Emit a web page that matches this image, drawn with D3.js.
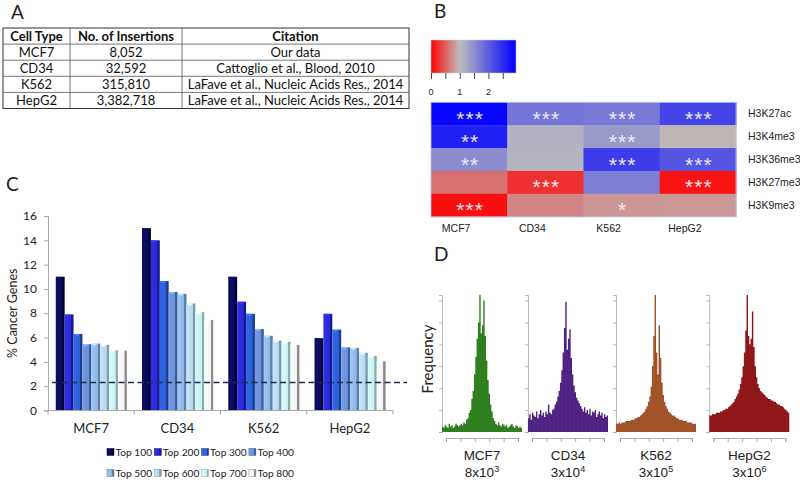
<!DOCTYPE html>
<html>
<head>
<meta charset="utf-8">
<script src="https://cdn.jsdelivr.net/npm/d3@7"></script>
<style>
  body { margin: 0; background: #fff; }
  svg { display: block; }
</style>
</head>
<body>
<div id="chart"></div>
<script>
// ---- panel A: table
var tableHeader = ["Cell Type", "No. of Insertions", "Citation"];
var cellTypes = ["MCF7", "CD34", "K562", "HepG2"];
var insertions = ["8,052", "32,592", "315,810", "3,382,718"];
var citations = ["Our data", "Cattoglio et al., Blood, 2010",
    "LaFave et al., Nucleic Acids Res., 2014", "LaFave et al., Nucleic Acids Res., 2014"];

// ---- panel B: heatmap (fold enrichment)
var marks = ["H3K27ac", "H3K4me3", "H3K36me3", "H3K27me3", "H3K9me3"];
var cellLines = ["MCF7", "CD34", "K562", "HepG2"];
var enrichment = [
    [2.9, 1.75, 1.72, 2.25],
    [2.63, 1.12, 1.37, 0.96],
    [1.52, 1.1, 2.34, 2.08],
    [0.59, 0.25, 1.66, 0.1],
    [0.08, 0.7, 0.79, 0.8]
];
var stars = [
    ["***", "***", "***", "***"],
    ["**", "", "***", ""],
    ["**", "", "***", "***"],
    ["", "***", "", "***"],
    ["***", "", "*", ""]
];
var colorTicks = [0, 1, 2];

// ---- panel C: % cancer genes
var categories = ["MCF7", "CD34", "K562", "HepG2"];
var series = ["Top 100", "Top 200", "Top 300", "Top 400", "Top 500", "Top 600", "Top 700", "Top 800"];
var cancerPct = [
    [11.0, 7.9, 6.3, 5.45, 5.5, 5.4, 4.95, 4.92],
    [15.0, 14.0, 10.65, 9.75, 9.6, 8.8, 8.1, 7.45],
    [11.0, 8.95, 7.95, 6.7, 6.15, 5.75, 5.65, 5.4],
    [5.95, 7.95, 6.65, 5.2, 5.15, 4.75, 4.5, 4.05]
];
var baselinePct = 2.3;
var yTicks = [0, 2, 4, 6, 8, 10, 12, 14, 16];

// ---- panel D: histograms (relative frequency)
var histNames = ["MCF7", "CD34", "K562", "HepG2"];
var histMant = ["8x10", "3x10", "3x10", "3x10"];
var histExp = ["3", "4", "5", "6"];
var histMCF7 = [4,3,5,4,3,6,4,5,3,4,6,5,4,5,6,5,
    7,6,9,10,14,16,24,30,42,55,68,80,
    100,72,78,96,70,52,38,28,20,15,10,8,
    6,5,7,5,4,6,5,4,5,3,4,5,6,4,3,5,4,3,4,3];
var histCD34 = [10,13,9,14,12,11,15,10,13,16,12,14,11,15,13,20,14,13,16,17,
    20,22,26,30,36,45,58,76,
    95,60,68,75,54,42,34,29,25,23,21,19,
    17,15,18,14,16,13,17,12,15,14,16,11,13,15,12,14,10,13,11,12];
var histK562 = [6,6,7,6,7,7,7,8,8,8,8,9,9,9,10,10,11,11,12,13,
    14,15,17,19,22,26,33,48,
    70,100,58,42,78,54,36,27,22,19,17,15,
    14,13,12,12,11,10,10,9,9,9,8,8,8,7,7,7,7,6,6,6];
var histHepG2 = [12,12,13,13,13,14,14,14,15,15,16,16,17,17,18,19,20,21,22,24,
    26,28,31,35,40,48,58,74,
    100,70,64,68,88,62,48,40,35,32,30,29,
    28,27,26,25,24,24,23,23,22,22,21,20,20,19,19,18,17,16,15,14];
var histData = [histMCF7, histCD34, histK562, histHepG2];

var FONT = "Lato, 'Open Sans', sans-serif";
var ARIAL = "'Liberation Sans', Arial, sans-serif";

var svg = d3.select("#chart").append("svg")
    .attr("width", 800).attr("height", 480)
    .style("background", "#fff");
var defs = svg.append("defs");

// panel letters
svg.selectAll("text.panel")
    .data([["A", 11, 19], ["B", 434, 18], ["C", 6, 191], ["D", 434, 261]])
    .enter().append("text")
    .attr("class", "panel")
    .attr("x", d => d[1]).attr("y", d => d[2])
    .style("font-family", FONT).style("font-size", "19px").style("fill", "#222")
    .text(d => d[0]);

// ================= A =================
var colEdges = [3, 70, 182, 409];
var rows = [tableHeader].concat(cellTypes.map((c, i) => [c, insertions[i], citations[i]]));
var rowY = d3.scaleBand().domain(d3.range(rows.length)).range([28, 108.5]);
var tbl = svg.append("g");
tbl.append("rect")
    .attr("x", colEdges[0]).attr("y", rowY(0))
    .attr("width", colEdges[3] - colEdges[0]).attr("height", rowY.bandwidth() * rows.length)
    .attr("fill", "none").attr("stroke", "#333").attr("stroke-width", 1);
tbl.selectAll("line.h").data(d3.range(1, rows.length)).enter().append("line")
    .attr("x1", colEdges[0]).attr("x2", colEdges[3])
    .attr("y1", d => rowY(d)).attr("y2", d => rowY(d))
    .attr("stroke", "#555").attr("stroke-width", 0.8);
tbl.selectAll("line.v").data([1, 2]).enter().append("line")
    .attr("x1", d => colEdges[d]).attr("x2", d => colEdges[d])
    .attr("y1", rowY(0)).attr("y2", rowY(rows.length - 1) + rowY.bandwidth())
    .attr("stroke", "#555").attr("stroke-width", 0.8);
rows.forEach((r, i) => {
    tbl.selectAll(null).data(r).enter().append("text")
        .attr("x", (d, j) => (colEdges[j] + colEdges[j + 1]) / 2)
        .attr("y", rowY(i) + rowY.bandwidth() / 2)
        .attr("dy", "0.36em")
        .attr("text-anchor", "middle")
        .style("font-family", FONT).style("font-size", "13px")
        .style("font-weight", i === 0 ? "bold" : "normal")
        .style("fill", "#111")
        .text(d => d);
});

// ================= B =================
var heatColor = d3.scaleLinear().domain([0, 1, 2.96]).range(["#ff0000", "#bebebe", "#0000ff"]);
var cbX = d3.scaleLinear().domain([0, 2.96]).range([431, 516]);
var grad = defs.append("linearGradient").attr("id", "cbar");
grad.selectAll("stop").data(d3.range(0, 2.97, 0.08)).enter().append("stop")
    .attr("offset", d => d / 2.96)
    .attr("stop-color", d => heatColor(d));
svg.append("rect").attr("x", cbX(0)).attr("y", 40)
    .attr("width", cbX(2.96) - cbX(0)).attr("height", 33)
    .attr("fill", "url(#cbar)").attr("stroke", "#ccc").attr("stroke-width", 0.5);
svg.append("g").attr("transform", "translate(0,73)")
    .call(d3.axisBottom(cbX).tickValues(d3.range(0, 2.6, 0.5)).tickSize(6).tickFormat(""))
    .call(g => g.select(".domain").remove())
    .call(g => g.selectAll("line").attr("stroke", "#444"));
svg.selectAll("text.cbl").data(colorTicks).enter().append("text")
    .attr("x", d => cbX(d)).attr("y", 95)
    .attr("text-anchor", "middle")
    .style("font-family", ARIAL).style("font-size", "9px").style("fill", "#222")
    .text(d => d);

var hx = d3.scaleBand().domain(cellLines).range([431, 736]);
var hy = d3.scaleBand().domain(marks).range([102.3, 216.7]);
var cells = [];
marks.forEach((m, i) => cellLines.forEach((c, j) => cells.push({ m: m, c: c, v: enrichment[i][j], s: stars[i][j] })));
var hm = svg.append("g");
hm.selectAll("rect").data(cells).enter().append("rect")
    .attr("x", d => hx(d.c)).attr("y", d => hy(d.m))
    .attr("width", hx.bandwidth() + 0.5).attr("height", hy.bandwidth() + 0.5)
    .attr("fill", d => heatColor(d.v));
hm.append("rect").attr("x", 431).attr("y", 102.3).attr("width", 305).attr("height", 114.4)
    .attr("fill", "none").attr("stroke", "#b8bff0").attr("stroke-width", 0.8);
hm.selectAll("text.star").data(cells.filter(d => d.s)).enter().append("text")
    .attr("x", d => hx(d.c) + hx.bandwidth() / 2 + 1)
    .attr("y", d => hy(d.m) + hy.bandwidth() / 2 + 12)
    .attr("text-anchor", "middle")
    .style("font-family", ARIAL).style("font-size", "21px")
    .style("letter-spacing", "1px")
    .style("fill", "#f4f4ff").style("opacity", 0.92)
    .text(d => d.s);
svg.selectAll("text.rowl").data(marks).enter().append("text")
    .attr("x", 748).attr("y", d => hy(d) + hy.bandwidth() / 2)
    .attr("dy", "0.35em")
    .style("font-family", ARIAL).style("font-size", "10.5px").style("fill", "#222")
    .text(d => d);
svg.selectAll("text.coll").data(cellLines).enter().append("text")
    .attr("x", d => hx(d) + hx.bandwidth() / 2 - 13).attr("y", 232)
    .attr("text-anchor", "middle")
    .style("font-family", ARIAL).style("font-size", "10.5px").style("fill", "#222")
    .text(d => d);

// ================= C =================
var barBase = ["#0b0b5c", "#2a2ad6", "#2d5fd4", "#6a8fd6", "#8fb6e4", "#b6d4ea", "#c8eff1", "#f2f2f2"];
var barDark = ["#000030", "#181890", "#1c3c8e", "#3f5e98", "#5c80a8", "#7b9bb0", "#88adb0", "#8c8c8c"];
series.forEach((s, i) => {
    var g = defs.append("linearGradient").attr("id", "bar" + i);
    g.append("stop").attr("offset", 0).attr("stop-color", d3.color(barBase[i]).brighter(0.25));
    g.append("stop").attr("offset", 0.7).attr("stop-color", barBase[i]);
    g.append("stop").attr("offset", 0.76).attr("stop-color", barDark[i]);
    g.append("stop").attr("offset", 1).attr("stop-color", barDark[i]);
});

var x0 = d3.scaleBand().domain(categories).range([48, 393]);
var x1 = d3.scaleBand().domain(series).range([x0.bandwidth() * 0.09, x0.bandwidth() * 0.915]);
var y = d3.scaleLinear().domain([0, 16]).range([410.5, 216]);

var pc = svg.append("g");
// y axis
pc.append("g").attr("transform", "translate(48,0)")
    .call(d3.axisLeft(y).tickValues(yTicks).tickSize(4).tickFormat(""))
    .call(g => g.selectAll("path,line").attr("stroke", "#a8a8a8"));
pc.selectAll("text.yt").data(yTicks).enter().append("text")
    .attr("x", 37).attr("y", d => y(d)).attr("dy", "0.35em")
    .attr("text-anchor", "end")
    .style("font-family", FONT).style("font-size", "12px").style("fill", "#222")
    .text(d => d);
pc.append("text")
    .attr("transform", "translate(17," + y(8) + ") rotate(-90)")
    .attr("text-anchor", "middle")
    .style("font-family", FONT).style("font-size", "12.5px").style("fill", "#222")
    .text("% Cancer Genes");

// bars
categories.forEach((c, ci) => {
    var g = pc.append("g").attr("transform", "translate(" + x0(c) + ",0)");
    g.selectAll("rect").data(cancerPct[ci]).enter().append("rect")
        .attr("x", (d, i) => x1(series[i]))
        .attr("y", d => y(d))
        .attr("width", x1.bandwidth())
        .attr("height", d => y(0) - y(d))
        .attr("fill", (d, i) => "url(#bar" + i + ")");
    // bevel at top of each bar
    g.selectAll("path").data(cancerPct[ci]).enter().append("path")
        .attr("d", (d, i) => {
            var xl = x1(series[i]), w = x1.bandwidth() * 0.74;
            return "M" + xl + "," + y(d) + "L" + (xl + w) + "," + y(d) + "L" + (xl + w / 2) + "," + (y(d) + 2.5) + "Z";
        })
        .attr("fill", (d, i) => d3.color(barBase[i]).brighter(0.7));
});

// x axis
pc.append("line").attr("x1", 48).attr("x2", 393).attr("y1", y(0)).attr("y2", y(0))
    .attr("stroke", "#a8a8a8");
pc.selectAll("line.xt").data(categories.concat([null])).enter().append("line")
    .attr("x1", d => d ? x0(d) : x0.range()[1]).attr("x2", d => d ? x0(d) : x0.range()[1])
    .attr("y1", y(0)).attr("y2", y(0) + 4)
    .attr("stroke", "#a8a8a8");
pc.selectAll("text.xl").data(categories).enter().append("text")
    .attr("x", d => x0(d) + x0.bandwidth() / 2).attr("y", 433)
    .attr("text-anchor", "middle")
    .style("font-family", FONT).style("font-size", "13px").style("fill", "#222")
    .text(d => d);

// baseline dashed
pc.append("line").attr("x1", 52).attr("x2", 407)
    .attr("y1", y(baselinePct)).attr("y2", y(baselinePct))
    .attr("stroke", "#1d2d4d").attr("stroke-width", 1.4).attr("stroke-dasharray", "6,3.5");

// legend
var leg = pc.selectAll("g.leg").data(series).enter().append("g")
    .attr("transform", (d, i) => "translate(" + (107 + (i % 4) * 47.3) + "," + (i < 4 ? 452 : 473) + ")");
leg.append("rect").attr("x", 0).attr("y", -3.5).attr("width", 7).attr("height", 7)
    .attr("fill", (d, i) => "url(#bar" + i + ")")
    .attr("stroke", (d, i) => barDark[i]).attr("stroke-width", 0.5);
leg.append("text").attr("x", 8.5).attr("dy", "0.35em")
    .style("font-family", FONT).style("font-size", "10.2px").style("fill", "#222")
    .text(d => d);

// ================= D =================
var histLeft = [442, 528, 616, 709.3];
var histColor = ["#2b7a1c", "#4a1c7e", "#9d4f25", "#8c1212"];
var histLine = ["#55993f", "#7350a6", "#bb7249", "#ab4040"];
var hyS = d3.scaleLinear().domain([0, 100]).range([432, 295]);

svg.append("text")
    .attr("transform", "translate(433,359) rotate(-90)")
    .attr("text-anchor", "middle")
    .style("font-family", FONT).style("font-size", "15px").style("fill", "#222")
    .text("Frequency");

histData.forEach((hd, k) => {
    var g = svg.append("g");
    var bx = d3.scaleBand().domain(d3.range(hd.length)).range([histLeft[k], histLeft[k] + 80]);
    var ax = d3.scaleLinear().domain([0, 5]).range([histLeft[k] + 4, histLeft[k] + 76]);
    g.append("g").attr("transform", "translate(" + histLeft[k] + ",0)")
        .call(d3.axisLeft(hyS).tickValues([0, 16, 32, 48, 64, 80, 96]).tickSize(3).tickFormat(""))
        .call(g2 => g2.selectAll("path,line").attr("stroke", "#aaa").attr("stroke-width", 0.8));
    // solid step outline of the bins
    var pts = [];
    hd.forEach((d, i) => { pts.push([bx(i), d]); pts.push([bx(i) + bx.bandwidth(), d]); });
    g.append("path").datum(pts)
        .attr("d", d3.area().x(p => p[0]).y0(hyS(0)).y1(p => hyS(p[1])))
        .attr("fill", histColor[k]);
    // faint bin separators
    g.selectAll("line.bin").data(hd).enter().append("line")
        .attr("x1", (d, i) => bx(i)).attr("x2", (d, i) => bx(i))
        .attr("y1", hyS(0)).attr("y2", d => hyS(d) + 1)
        .attr("stroke", histLine[k]).attr("stroke-width", 0.3).attr("stroke-opacity", 0.7);
    g.append("g").attr("transform", "translate(0,438)")
        .call(d3.axisBottom(ax).ticks(5).tickSize(4).tickFormat(""))
        .call(g2 => g2.selectAll("path,line").attr("stroke", "#999").attr("stroke-width", 0.8));
    var cx = histLeft[k] + 40;
    g.append("text").attr("x", cx).attr("y", 460).attr("text-anchor", "middle")
        .style("font-family", ARIAL).style("font-size", "13.5px").style("fill", "#222")
        .text(histNames[k]);
    var t = g.append("text").attr("x", cx).attr("y", 477).attr("text-anchor", "middle")
        .style("font-family", ARIAL).style("font-size", "13.5px").style("fill", "#222");
    t.append("tspan").text(histMant[k]);
    t.append("tspan").attr("dy", -5).style("font-size", "9px").text(histExp[k]);
});
</script>
</body>
</html>
